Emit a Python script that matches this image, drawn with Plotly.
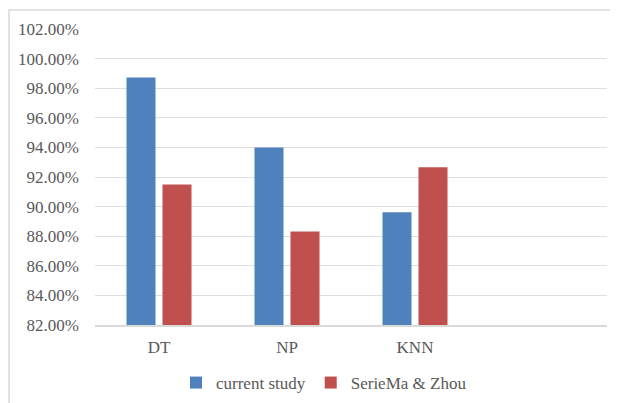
import plotly.graph_objects as go

categories = ["DT", "NP", "KNN"]
current_study = [98.72, 94.0, 89.61]
seriema_zhou = [91.5, 88.32, 92.66]
series_names = ["current study", "SerieMa & Zhou"]

OFF = 8  # default page body margin
W, H = 618 - OFF, 403 - OFF
L, R, T, B = 95 - OFF, 11, 29 - OFF, 78
pw, ph = W - L - R, H - T - B

def px_x(p):
    return (p - OFF - L) / pw

def px_y(p):
    return (H - B - (p - OFF)) / ph

font = dict(family="Liberation Serif", size=17, color="#595959")

fig = go.Figure()
fig.add_trace(go.Bar(x=categories, y=current_study, name=series_names[0],
                     marker=dict(color="#4F81BD", line=dict(width=0))))
fig.add_trace(go.Bar(x=categories, y=seriema_zhou, name=series_names[1],
                     marker=dict(color="#C0504D", line=dict(width=0))))

fig.update_layout(
    width=W, height=H,
    margin=dict(l=L, r=R, t=T, b=B, autoexpand=False),
    paper_bgcolor="white", plot_bgcolor="white",
    barmode="group", bargap=0.4375, bargroupgap=0.194,
    font=font,
    showlegend=True,
    legend=dict(orientation="h", x=px_x(176), xanchor="left",
                y=px_y(383), yanchor="middle", font=font,
                bgcolor="rgba(0,0,0,0)", borderwidth=0,
                tracegroupgap=0, itemwidth=30),
    xaxis=dict(range=[-0.5, 3.5], showgrid=False, showline=True,
               linecolor="#D9D9D9", linewidth=1.5, ticks="",
               ticklabelstandoff=6, tickfont=font, fixedrange=True,
               automargin=False),
    yaxis=dict(range=[82, 102], dtick=2, tick0=82, tickformat=".2f",
               ticksuffix="%", showgrid=True, gridcolor="#DEDEDE",
               gridwidth=1, zeroline=False, showline=False, ticks="",
               ticklabelstandoff=15, tickfont=font, fixedrange=True,
               automargin=False),
    shapes=[dict(type="rect", xref="paper", yref="paper",
                 x0=px_x(OFF + 1), x1=px_x(640), y0=px_y(430), y1=px_y(10),
                 line=dict(color="#D9D9D9", width=1.5), fillcolor="rgba(0,0,0,0)",
                 layer="below")],
)

fig.write_html("out.html")
